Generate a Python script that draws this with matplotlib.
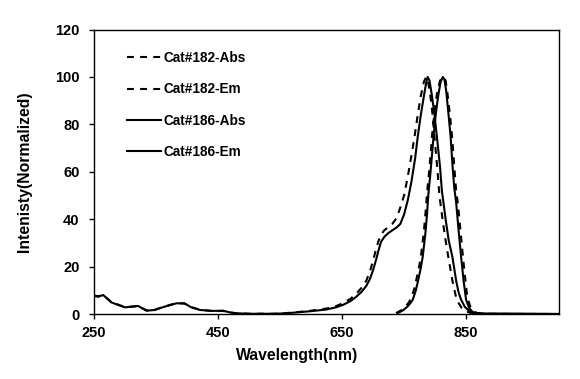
import matplotlib
matplotlib.use('Agg')
import matplotlib.pyplot as plt

plt.rcParams['font.family'] = ['Liberation Sans', 'DejaVu Sans']
plt.rcParams['font.weight'] = 'bold'

# Cat#182-Abs (dashed)
abs182_nm = [250, 257, 265, 278, 300, 321, 335, 348, 364, 383, 396, 407, 421, 442, 458, 469, 480,
             500, 540, 560, 582, 600, 625, 640, 652, 664, 673, 682, 689, 695, 700, 705, 709, 713,
             718, 724, 731, 738, 744, 750, 756, 762, 767, 772, 777, 782, 785.5, 788, 792, 796, 799,
             804, 807, 812, 817, 822, 828, 833, 837, 843, 850, 858, 870, 1000]
abs182_val = [7.8, 7.5, 8.1, 5.0, 2.9, 3.3, 1.5, 1.8, 3.2, 4.6, 4.4, 2.9, 1.8, 1.2, 1.3, 0.6, 0.3,
              0.1, 0.1, 0.4, 0.9, 1.4, 2.3, 3.3, 4.6, 6.5, 8.6, 11.2, 14, 18, 22.5, 27.5, 31, 33.5,
              35.3, 36.5, 38, 40.5, 45, 50, 58, 67, 75, 84, 92, 98, 100, 99, 93, 84, 75,
              60, 50, 40, 31, 23, 14, 8, 5, 2.5, 1.1, 0.4, 0.1, 0]

# Cat#182-Em (dashed)
em182_nm = [737, 745, 752, 758, 762, 767, 771, 775, 778, 782, 785, 787, 790, 793, 795, 799, 803,
            808, 814, 817, 820, 824, 828, 831, 834, 837, 841, 845, 849, 852, 857, 862, 868, 880, 1000]
em182_val = [0.4, 1.5, 3, 5, 7, 11, 16, 21, 26, 35, 44, 51, 59, 68, 75, 85, 93,
             98.5, 100, 98.5, 93, 84, 73, 62, 52, 46, 35, 24, 14, 7, 3, 1.2, 0.4, 0.1, 0]

# Cat#186-Abs (solid)
abs186_nm = [250, 257, 265, 278, 300, 321, 335, 348, 364, 383, 396, 407, 421, 442, 458, 469, 480,
             500, 540, 560, 582, 600, 625, 640, 652, 664, 673, 682, 689, 695, 700, 705, 709, 713,
             718, 724, 731, 738, 744, 750, 756, 762, 768, 772, 777, 782, 786, 788, 791, 795, 799,
             803, 808, 811, 813, 817, 822, 828, 834, 838, 842, 848, 855, 863, 880, 1000]
abs186_val = [7.6, 7.3, 8.0, 4.9, 2.8, 3.4, 1.4, 1.7, 3.1, 4.5, 4.5, 2.8, 1.7, 1.3, 1.4, 0.7, 0.3,
              0.1, 0.1, 0.3, 0.8, 1.2, 1.9, 2.8, 3.9, 5.5, 7.3, 9.5, 11.8, 14.8, 18.5, 23, 27, 30.5,
              32.5, 34, 35.3, 36.5, 38, 42, 48, 56, 66, 74.7, 84, 92, 98, 100, 98.5, 92, 84,
              74.7, 62, 52, 48, 40, 31, 24, 14, 9, 6, 3, 1.3, 0.4, 0.1, 0]

# Cat#186-Em (solid)
em186_nm = [740, 748, 755, 760, 764, 769, 773, 777, 780, 784, 787, 789, 792, 795, 797.5, 801, 805,
            809, 812.5, 815, 818, 821, 825, 828, 831, 834, 838, 842, 846, 850, 855, 860, 866, 880, 1000]
em186_val = [0.4, 1.5, 3, 4.5, 6, 10, 14.5, 19.5, 24, 33, 42, 50, 58, 67, 75, 84, 92,
             98, 100, 99, 94, 86, 75, 63, 53, 47, 35, 24, 14, 6, 2.5, 1, 0.3, 0.1, 0]

x_ticks = [250, 450, 650, 850]
y_ticks = [0, 20, 40, 60, 80, 100, 120]

fig = plt.figure(figsize=(5.8, 3.79), dpi=100)
ax = fig.add_axes([0.162, 0.1715, 0.802, 0.7505])

dash = (3.3, 3.0)
ax.plot(abs182_nm, abs182_val, color='black', lw=1.5, ls='--', dashes=dash, label='Cat#182-Abs')
ax.plot(em182_nm, em182_val, color='black', lw=1.5, ls='--', dashes=dash, label='Cat#182-Em')
ax.plot(abs186_nm, abs186_val, color='black', lw=1.5, label='Cat#186-Abs')
ax.plot(em186_nm, em186_val, color='black', lw=1.5, label='Cat#186-Em')

ax.set_xlim(250, 1000)
ax.set_ylim(0, 120)
ax.set_xticks(x_ticks)
ax.set_yticks(y_ticks)
ax.tick_params(direction='out', length=3.5, width=1, labelsize=10.5)
ax.tick_params(axis='y', pad=7)
ax.tick_params(axis='x', pad=5)
for s in ax.spines.values():
    s.set_linewidth(1)

ax.set_xlabel('Wavelength(nm)', fontsize=11.3, fontweight='bold')
ax.xaxis.set_label_coords(0.437, -0.12)
ax.set_ylabel('Intenisty(Normalized)', fontsize=11.3, fontweight='bold')
ax.yaxis.set_label_coords(-0.134, 0.5)

ax.legend(loc='upper left', bbox_to_anchor=(0.07, 0.925), frameon=False, fontsize=9.8,
          handlelength=2.5, handletextpad=0.25, labelspacing=1.28, borderpad=0, borderaxespad=0)

fig.savefig('out.png', dpi=100)
